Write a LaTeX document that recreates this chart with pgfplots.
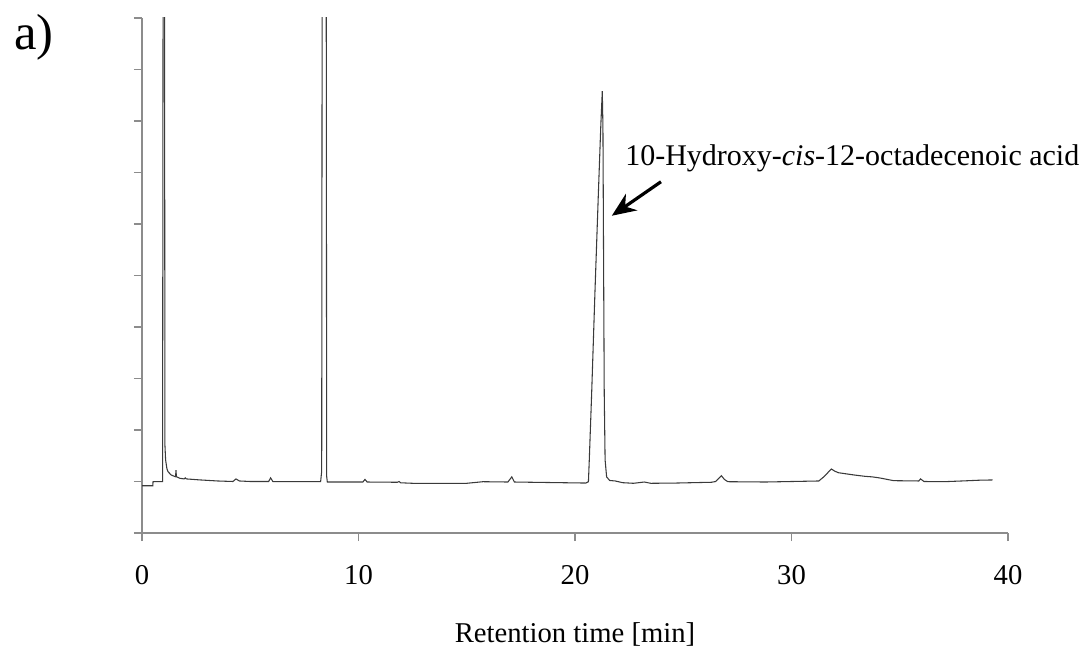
\documentclass[border=0pt]{standalone}
\usepackage{fontspec}
\setmainfont{Liberation Serif}
\usepackage{pgfplots}
\pgfplotsset{compat=1.18}
\usetikzlibrary{arrows.meta}
\definecolor{axisgray}{HTML}{8C8C8C}
\definecolor{trace}{HTML}{3A3A3A}
\begin{document}
\begin{tikzpicture}
\path[use as bounding box] (-106.5pt,-89.25pt) rectangle (706.5pt,399.75pt);
\begin{axis}[
  at={(0pt,0pt)}, anchor=south west,
  scale only axis, width=649.5pt, height=386.25pt,
  xmin=0, xmax=40, ymin=0, ymax=10,
  axis lines=left,
  axis line style={-, axisgray, line width=1.2pt},
  every tick/.style={axisgray, line width=1.2pt},
  tick align=outside,
  major tick length=6pt,
  xtick={0,10,20,30,40},
  ytick={0,1,...,10},
  yticklabels={},
  /pgf/number format/assume math mode=true,
  xticklabel style={font=\fontsize{21.5}{25}\selectfont, anchor=base, yshift=-32.5pt},
  xlabel={Retention time [min]},
  xlabel style={font=\fontsize{21.5}{25}\selectfont, at={(axis description cs:0.5,-0.212)}, anchor=base},
  clip mode=individual,
]
\addplot[trace, line width=0.8pt] coordinates {
(0.00,0.918) (0.50,0.918) (0.51,0.996) (0.95,0.996) (0.985,15) (1.03,15) (1.06,1.70)
(1.09,1.42) (1.15,1.25) (1.20,1.19) (1.35,1.126) (1.50,1.10) (1.55,1.093) (1.57,1.22)
(1.59,1.093) (1.75,1.062) (1.95,1.05) (2.00,1.07) (2.05,1.05) (2.70,1.03) (3.50,1.01)
(4.20,1.00) (4.34,1.05) (4.50,1.01) (5.00,1.00) (5.85,1.00) (5.94,1.07) (6.05,0.996)
(8.25,0.996) (8.30,1.2) (8.33,15) (8.50,15) (8.53,1.1) (8.56,0.99) (10.20,0.99)
(10.30,1.04) (10.40,0.99) (11.80,0.985) (11.87,1.00) (11.95,0.975) (12.50,0.965)
(15.00,0.965) (15.75,0.996) (16.90,0.99) (17.08,1.09) (17.20,0.99) (18.00,0.985)
(20.50,0.97) (20.62,0.996) (20.66,1.42) (20.77,2.72) (20.92,4.66) (21.08,6.60)
(21.19,7.89) (21.26,8.58) (21.29,7.89) (21.32,5.30) (21.35,2.72) (21.39,1.42)
(21.46,1.09) (21.60,1.02) (21.86,1.01) (22.20,0.977) (22.70,0.965) (23.20,0.99)
(23.50,0.965) (24.67,0.97) (26.30,0.985) (26.50,1.00) (26.76,1.113) (26.90,1.04)
(27.06,0.996) (28.80,0.99) (31.26,1.01) (31.50,1.093) (31.84,1.243) (32.00,1.20)
(32.17,1.17) (32.90,1.126) (33.40,1.10) (33.73,1.09) (34.06,1.07) (34.72,1.016)
(35.88,1.01) (35.96,1.05) (36.12,1.00) (37.03,0.996) (37.86,1.01) (38.68,1.025)
(39.29,1.03)
};
\node[anchor=base west, inner sep=0pt, font=\fontsize{22.5}{26}\selectfont]
  at (axis cs:22.31,7.13) {10-Hydroxy-\textit{cis}-12-octadecenoic acid};
\draw[-{Stealth[length=18pt,width=15pt]}, line width=2.4pt, black]
  (axis cs:23.97,6.82) -- (axis cs:21.70,6.16);
\end{axis}
\node[anchor=base west, inner sep=0pt, font=\fontsize{38}{42}\selectfont] at (-96pt,362.25pt) {a)};
\end{tikzpicture}
\end{document}
